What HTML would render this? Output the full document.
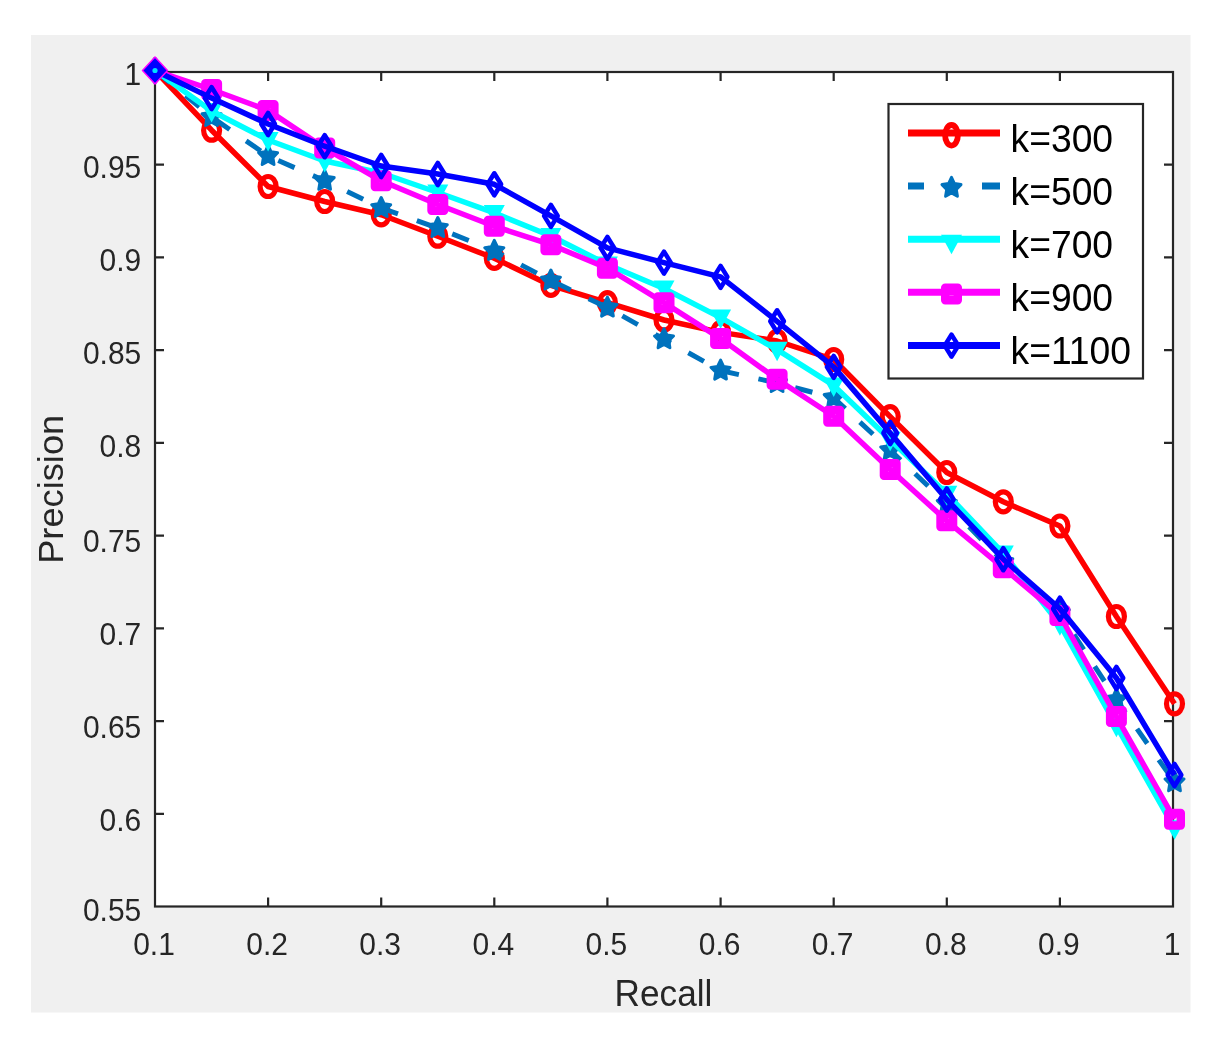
<!DOCTYPE html>
<html lang="en"><head><meta charset="utf-8"><title>Precision-Recall</title>
<style>html,body{margin:0;padding:0;background:#fff;}body{width:1221px;height:1054px;overflow:hidden;}svg{display:block;filter:blur(0.6px);}</style>
</head><body>
<svg width="1221" height="1054" viewBox="0 0 1221 1054" font-family="Liberation Sans, sans-serif">
<rect x="0" y="0" width="1221" height="1054" fill="#ffffff"/>
<rect x="31" y="35" width="1159.5" height="977.5" fill="#f0f0f0"/>
<rect x="155.0" y="72.0" width="1018.0" height="834.5" fill="#ffffff"/>
<g stroke="#262626" stroke-width="2.2" fill="none">
<rect x="155.0" y="72.0" width="1018.0" height="834.5"/>
<path d="M268.1 906.5v-9M268.1 72.0v9"/>
<path d="M381.2 906.5v-9M381.2 72.0v9"/>
<path d="M494.3 906.5v-9M494.3 72.0v9"/>
<path d="M607.4 906.5v-9M607.4 72.0v9"/>
<path d="M720.6 906.5v-9M720.6 72.0v9"/>
<path d="M833.7 906.5v-9M833.7 72.0v9"/>
<path d="M946.8 906.5v-9M946.8 72.0v9"/>
<path d="M1059.9 906.5v-9M1059.9 72.0v9"/>
<path d="M155.0 164.7h9M1173.0 164.7h-9"/>
<path d="M155.0 257.4h9M1173.0 257.4h-9"/>
<path d="M155.0 350.2h9M1173.0 350.2h-9"/>
<path d="M155.0 442.9h9M1173.0 442.9h-9"/>
<path d="M155.0 535.6h9M1173.0 535.6h-9"/>
<path d="M155.0 628.3h9M1173.0 628.3h-9"/>
<path d="M155.0 721.1h9M1173.0 721.1h-9"/>
<path d="M155.0 813.8h9M1173.0 813.8h-9"/>
</g>
<text transform="translate(154.0,955.2) scale(1,1.045)" text-anchor="middle" font-size="30" fill="#262626">0.1</text>
<text transform="translate(267.1,955.2) scale(1,1.045)" text-anchor="middle" font-size="30" fill="#262626">0.2</text>
<text transform="translate(380.2,955.2) scale(1,1.045)" text-anchor="middle" font-size="30" fill="#262626">0.3</text>
<text transform="translate(493.3,955.2) scale(1,1.045)" text-anchor="middle" font-size="30" fill="#262626">0.4</text>
<text transform="translate(606.4,955.2) scale(1,1.045)" text-anchor="middle" font-size="30" fill="#262626">0.5</text>
<text transform="translate(719.6,955.2) scale(1,1.045)" text-anchor="middle" font-size="30" fill="#262626">0.6</text>
<text transform="translate(832.7,955.2) scale(1,1.045)" text-anchor="middle" font-size="30" fill="#262626">0.7</text>
<text transform="translate(945.8,955.2) scale(1,1.045)" text-anchor="middle" font-size="30" fill="#262626">0.8</text>
<text transform="translate(1058.9,955.2) scale(1,1.045)" text-anchor="middle" font-size="30" fill="#262626">0.9</text>
<text transform="translate(1172.0,955.2) scale(1,1.045)" text-anchor="middle" font-size="30" fill="#262626">1</text>
<text transform="translate(141.3,84.9) scale(1,1.045)" text-anchor="end" font-size="30" fill="#262626">1</text>
<text transform="translate(141.3,178.3) scale(1,1.045)" text-anchor="end" font-size="30" fill="#262626">0.95</text>
<text transform="translate(141.3,271.0) scale(1,1.045)" text-anchor="end" font-size="30" fill="#262626">0.9</text>
<text transform="translate(141.3,363.8) scale(1,1.045)" text-anchor="end" font-size="30" fill="#262626">0.85</text>
<text transform="translate(141.3,456.5) scale(1,1.045)" text-anchor="end" font-size="30" fill="#262626">0.8</text>
<text transform="translate(141.3,551.6) scale(1,1.045)" text-anchor="end" font-size="30" fill="#262626">0.75</text>
<text transform="translate(141.3,645.0) scale(1,1.045)" text-anchor="end" font-size="30" fill="#262626">0.7</text>
<text transform="translate(141.3,737.8) scale(1,1.045)" text-anchor="end" font-size="30" fill="#262626">0.65</text>
<text transform="translate(141.3,830.5) scale(1,1.045)" text-anchor="end" font-size="30" fill="#262626">0.6</text>
<text transform="translate(141.3,921.2) scale(1,1.045)" text-anchor="end" font-size="30" fill="#262626">0.55</text>
<text transform="translate(663.5,1005.8) scale(1,1.045)" text-anchor="middle" font-size="35.2" fill="#262626">Recall</text>
<text transform="translate(63.3,489.3) scale(1,1.045) rotate(-90)" text-anchor="middle" font-size="34.7" fill="#262626">Precision</text>
<polyline points="155.0,70.5 211.6,130.2 268.1,186.5 324.7,201.5 381.2,214.8 437.8,236.2 494.3,258.3 550.9,285.4 607.4,302.7 664.0,320.0 720.6,332.4 777.1,341.0 833.7,359.5 890.2,416.6 946.8,472.5 1003.3,501.8 1059.9,526.0 1116.4,616.5 1174.5,703.8" fill="none" stroke="#ff0000" stroke-width="5.5" stroke-linejoin="round"/>
<ellipse cx="211.6" cy="130.2" rx="8" ry="10" fill="none" stroke="#ff0000" stroke-width="5.2"/>
<ellipse cx="268.1" cy="186.5" rx="8" ry="10" fill="none" stroke="#ff0000" stroke-width="5.2"/>
<ellipse cx="324.7" cy="201.5" rx="8" ry="10" fill="none" stroke="#ff0000" stroke-width="5.2"/>
<ellipse cx="381.2" cy="214.8" rx="8" ry="10" fill="none" stroke="#ff0000" stroke-width="5.2"/>
<ellipse cx="437.8" cy="236.2" rx="8" ry="10" fill="none" stroke="#ff0000" stroke-width="5.2"/>
<ellipse cx="494.3" cy="258.3" rx="8" ry="10" fill="none" stroke="#ff0000" stroke-width="5.2"/>
<ellipse cx="550.9" cy="285.4" rx="8" ry="10" fill="none" stroke="#ff0000" stroke-width="5.2"/>
<ellipse cx="607.4" cy="302.7" rx="8" ry="10" fill="none" stroke="#ff0000" stroke-width="5.2"/>
<ellipse cx="664.0" cy="320.0" rx="8" ry="10" fill="none" stroke="#ff0000" stroke-width="5.2"/>
<ellipse cx="720.6" cy="332.4" rx="8" ry="10" fill="none" stroke="#ff0000" stroke-width="5.2"/>
<ellipse cx="777.1" cy="341.0" rx="8" ry="10" fill="none" stroke="#ff0000" stroke-width="5.2"/>
<ellipse cx="833.7" cy="359.5" rx="8" ry="10" fill="none" stroke="#ff0000" stroke-width="5.2"/>
<ellipse cx="890.2" cy="416.6" rx="8" ry="10" fill="none" stroke="#ff0000" stroke-width="5.2"/>
<ellipse cx="946.8" cy="472.5" rx="8" ry="10" fill="none" stroke="#ff0000" stroke-width="5.2"/>
<ellipse cx="1003.3" cy="501.8" rx="8" ry="10" fill="none" stroke="#ff0000" stroke-width="5.2"/>
<ellipse cx="1059.9" cy="526.0" rx="8" ry="10" fill="none" stroke="#ff0000" stroke-width="5.2"/>
<ellipse cx="1116.4" cy="616.5" rx="8" ry="10" fill="none" stroke="#ff0000" stroke-width="5.2"/>
<ellipse cx="1174.5" cy="703.8" rx="8" ry="10" fill="none" stroke="#ff0000" stroke-width="5.2"/>
<polyline points="155.0,70.5 211.6,117.0 268.1,156.0 324.7,180.8 381.2,208.0 437.8,228.0 494.3,250.9 550.9,280.5 607.4,307.6 664.0,339.2 720.6,370.6 777.1,383.0 833.7,397.8 890.2,450.2 946.8,503.8 1003.3,562.0 1059.9,613.0 1116.4,699.6 1174.5,782.2" fill="none" stroke="#0072bd" stroke-width="5" stroke-linejoin="round" stroke-dasharray="17.8 20" stroke-dashoffset="-1.8"/>
<polygon points="211.6,106.5 214.5,112.8 221.1,113.8 216.3,118.6 217.4,125.5 211.6,122.2 205.7,125.5 206.8,118.6 202.0,113.8 208.6,112.8" fill="#0072bd" stroke="#0072bd" stroke-width="3" stroke-linejoin="round"/>
<polygon points="268.1,145.5 271.1,151.8 277.6,152.8 272.9,157.6 274.0,164.5 268.1,161.2 262.2,164.5 263.4,157.6 258.6,152.8 265.2,151.8" fill="#0072bd" stroke="#0072bd" stroke-width="3" stroke-linejoin="round"/>
<polygon points="324.7,170.3 327.6,176.6 334.2,177.6 329.4,182.4 330.5,189.3 324.7,186.1 318.8,189.3 319.9,182.4 315.2,177.6 321.7,176.6" fill="#0072bd" stroke="#0072bd" stroke-width="3" stroke-linejoin="round"/>
<polygon points="381.2,197.5 384.2,203.8 390.7,204.8 386.0,209.6 387.1,216.5 381.2,213.2 375.3,216.5 376.5,209.6 371.7,204.8 378.3,203.8" fill="#0072bd" stroke="#0072bd" stroke-width="3" stroke-linejoin="round"/>
<polygon points="437.8,217.5 440.7,223.8 447.3,224.8 442.5,229.6 443.7,236.5 437.8,233.2 431.9,236.5 433.0,229.6 428.3,224.8 434.8,223.8" fill="#0072bd" stroke="#0072bd" stroke-width="3" stroke-linejoin="round"/>
<polygon points="494.3,240.4 497.3,246.7 503.8,247.7 499.1,252.5 500.2,259.4 494.3,256.1 488.5,259.4 489.6,252.5 484.8,247.7 491.4,246.7" fill="#0072bd" stroke="#0072bd" stroke-width="3" stroke-linejoin="round"/>
<polygon points="550.9,270.0 553.8,276.3 560.4,277.3 555.6,282.1 556.8,289.0 550.9,285.8 545.0,289.0 546.1,282.1 541.4,277.3 547.9,276.3" fill="#0072bd" stroke="#0072bd" stroke-width="3" stroke-linejoin="round"/>
<polygon points="607.4,297.1 610.4,303.4 617.0,304.4 612.2,309.2 613.3,316.1 607.4,312.9 601.6,316.1 602.7,309.2 597.9,304.4 604.5,303.4" fill="#0072bd" stroke="#0072bd" stroke-width="3" stroke-linejoin="round"/>
<polygon points="664.0,328.7 666.9,335.0 673.5,336.0 668.8,340.8 669.9,347.7 664.0,344.4 658.1,347.7 659.2,340.8 654.5,336.0 661.1,335.0" fill="#0072bd" stroke="#0072bd" stroke-width="3" stroke-linejoin="round"/>
<polygon points="720.6,360.1 723.5,366.4 730.1,367.4 725.3,372.2 726.4,379.1 720.6,375.9 714.7,379.1 715.8,372.2 711.0,367.4 717.6,366.4" fill="#0072bd" stroke="#0072bd" stroke-width="3" stroke-linejoin="round"/>
<polygon points="777.1,372.5 780.1,378.8 786.6,379.8 781.9,384.6 783.0,391.5 777.1,388.2 771.2,391.5 772.4,384.6 767.6,379.8 774.2,378.8" fill="#0072bd" stroke="#0072bd" stroke-width="3" stroke-linejoin="round"/>
<polygon points="833.7,387.3 836.6,393.6 843.2,394.6 838.4,399.4 839.5,406.3 833.7,403.1 827.8,406.3 828.9,399.4 824.2,394.6 830.7,393.6" fill="#0072bd" stroke="#0072bd" stroke-width="3" stroke-linejoin="round"/>
<polygon points="890.2,439.7 893.2,446.0 899.7,447.0 895.0,451.8 896.1,458.7 890.2,455.4 884.3,458.7 885.5,451.8 880.7,447.0 887.3,446.0" fill="#0072bd" stroke="#0072bd" stroke-width="3" stroke-linejoin="round"/>
<polygon points="946.8,493.3 949.7,499.6 956.3,500.6 951.5,505.4 952.7,512.3 946.8,509.1 940.9,512.3 942.0,505.4 937.3,500.6 943.8,499.6" fill="#0072bd" stroke="#0072bd" stroke-width="3" stroke-linejoin="round"/>
<polygon points="1003.3,551.5 1006.3,557.8 1012.8,558.8 1008.1,563.6 1009.2,570.5 1003.3,567.2 997.5,570.5 998.6,563.6 993.8,558.8 1000.4,557.8" fill="#0072bd" stroke="#0072bd" stroke-width="3" stroke-linejoin="round"/>
<polygon points="1059.9,602.5 1062.8,608.8 1069.4,609.8 1064.6,614.6 1065.8,621.5 1059.9,618.2 1054.0,621.5 1055.1,614.6 1050.4,609.8 1056.9,608.8" fill="#0072bd" stroke="#0072bd" stroke-width="3" stroke-linejoin="round"/>
<polygon points="1116.4,689.1 1119.4,695.4 1126.0,696.4 1121.2,701.2 1122.3,708.1 1116.4,704.9 1110.6,708.1 1111.7,701.2 1106.9,696.4 1113.5,695.4" fill="#0072bd" stroke="#0072bd" stroke-width="3" stroke-linejoin="round"/>
<polygon points="1174.5,771.7 1177.4,778.0 1184.0,779.0 1179.3,783.8 1180.4,790.7 1174.5,787.5 1168.6,790.7 1169.7,783.8 1165.0,779.0 1171.6,778.0" fill="#0072bd" stroke="#0072bd" stroke-width="3" stroke-linejoin="round"/>
<polyline points="155.0,70.5 211.6,111.0 268.1,140.0 324.7,161.0 381.2,173.0 437.8,192.5 494.3,212.9 550.9,236.0 607.4,264.5 664.0,288.5 720.6,317.6 777.1,349.7 833.7,385.4 890.2,439.7 946.8,493.8 1003.3,553.5 1059.9,624.3 1116.4,725.8 1174.5,828.3" fill="none" stroke="#00ffff" stroke-width="5.5" stroke-linejoin="round"/>
<polygon points="201.1,103.0 222.1,103.0 211.6,122.5" fill="#00ffff"/>
<polygon points="257.6,132.0 278.6,132.0 268.1,151.5" fill="#00ffff"/>
<polygon points="314.2,153.0 335.2,153.0 324.7,172.5" fill="#00ffff"/>
<polygon points="370.7,165.0 391.7,165.0 381.2,184.5" fill="#00ffff"/>
<polygon points="427.3,184.5 448.3,184.5 437.8,204.0" fill="#00ffff"/>
<polygon points="483.8,204.9 504.8,204.9 494.3,224.4" fill="#00ffff"/>
<polygon points="540.4,228.0 561.4,228.0 550.9,247.5" fill="#00ffff"/>
<polygon points="596.9,256.5 617.9,256.5 607.4,276.0" fill="#00ffff"/>
<polygon points="653.5,280.5 674.5,280.5 664.0,300.0" fill="#00ffff"/>
<polygon points="710.1,309.6 731.1,309.6 720.6,329.1" fill="#00ffff"/>
<polygon points="766.6,341.7 787.6,341.7 777.1,361.2" fill="#00ffff"/>
<polygon points="823.2,377.4 844.2,377.4 833.7,396.9" fill="#00ffff"/>
<polygon points="879.7,431.7 900.7,431.7 890.2,451.2" fill="#00ffff"/>
<polygon points="936.3,485.8 957.3,485.8 946.8,505.3" fill="#00ffff"/>
<polygon points="992.8,545.5 1013.8,545.5 1003.3,565.0" fill="#00ffff"/>
<polygon points="1049.4,616.3 1070.4,616.3 1059.9,635.8" fill="#00ffff"/>
<polygon points="1105.9,717.8 1126.9,717.8 1116.4,737.3" fill="#00ffff"/>
<polygon points="1164.0,820.3 1185.0,820.3 1174.5,839.8" fill="#00ffff"/>
<polyline points="155.0,70.5 211.6,89.5 268.1,110.4 324.7,148.0 381.2,180.8 437.8,204.5 494.3,226.2 550.9,244.7 607.4,268.2 664.0,302.7 720.6,338.6 777.1,379.3 833.7,416.3 890.2,469.5 946.8,520.8 1003.3,567.8 1059.9,615.5 1116.4,716.6 1174.5,819.2" fill="none" stroke="#ff00ff" stroke-width="5.5" stroke-linejoin="round"/>
<rect x="205.3" y="83.2" width="12.6" height="12.6" fill="none" stroke="#ff00ff" stroke-width="8.4" stroke-linejoin="round"/>
<rect x="261.8" y="104.1" width="12.6" height="12.6" fill="none" stroke="#ff00ff" stroke-width="8.4" stroke-linejoin="round"/>
<rect x="318.4" y="141.7" width="12.6" height="12.6" fill="none" stroke="#ff00ff" stroke-width="8.4" stroke-linejoin="round"/>
<rect x="374.9" y="174.5" width="12.6" height="12.6" fill="none" stroke="#ff00ff" stroke-width="8.4" stroke-linejoin="round"/>
<rect x="431.5" y="198.2" width="12.6" height="12.6" fill="none" stroke="#ff00ff" stroke-width="8.4" stroke-linejoin="round"/>
<rect x="488.0" y="219.9" width="12.6" height="12.6" fill="none" stroke="#ff00ff" stroke-width="8.4" stroke-linejoin="round"/>
<rect x="544.6" y="238.4" width="12.6" height="12.6" fill="none" stroke="#ff00ff" stroke-width="8.4" stroke-linejoin="round"/>
<rect x="601.1" y="261.9" width="12.6" height="12.6" fill="none" stroke="#ff00ff" stroke-width="8.4" stroke-linejoin="round"/>
<rect x="657.7" y="296.4" width="12.6" height="12.6" fill="none" stroke="#ff00ff" stroke-width="8.4" stroke-linejoin="round"/>
<rect x="714.3" y="332.3" width="12.6" height="12.6" fill="none" stroke="#ff00ff" stroke-width="8.4" stroke-linejoin="round"/>
<rect x="770.8" y="373.0" width="12.6" height="12.6" fill="none" stroke="#ff00ff" stroke-width="8.4" stroke-linejoin="round"/>
<rect x="827.4" y="410.0" width="12.6" height="12.6" fill="none" stroke="#ff00ff" stroke-width="8.4" stroke-linejoin="round"/>
<rect x="883.9" y="463.2" width="12.6" height="12.6" fill="none" stroke="#ff00ff" stroke-width="8.4" stroke-linejoin="round"/>
<rect x="940.5" y="514.5" width="12.6" height="12.6" fill="none" stroke="#ff00ff" stroke-width="8.4" stroke-linejoin="round"/>
<rect x="997.0" y="561.5" width="12.6" height="12.6" fill="none" stroke="#ff00ff" stroke-width="8.4" stroke-linejoin="round"/>
<rect x="1053.6" y="609.2" width="12.6" height="12.6" fill="none" stroke="#ff00ff" stroke-width="8.4" stroke-linejoin="round"/>
<rect x="1110.1" y="710.3" width="12.6" height="12.6" fill="none" stroke="#ff00ff" stroke-width="8.4" stroke-linejoin="round"/>
<rect x="1168.2" y="812.9" width="12.6" height="12.6" fill="none" stroke="#ff00ff" stroke-width="8.4" stroke-linejoin="round"/>
<polyline points="155.0,70.5 211.6,98.1 268.1,124.0 324.7,146.2 381.2,166.0 437.8,174.0 494.3,184.3 550.9,215.9 607.4,247.9 664.0,262.6 720.6,276.9 777.1,321.3 833.7,366.9 890.2,433.0 946.8,499.5 1003.3,559.2 1059.9,608.7 1116.4,678.0 1174.5,775.0" fill="none" stroke="#0000ff" stroke-width="5.5" stroke-linejoin="round"/>
<polygon points="155.0,59.5 161.8,70.5 155.0,81.5 148.2,70.5" fill="none" stroke="#0000ff" stroke-width="4.6" stroke-linejoin="round"/>
<polygon points="211.6,87.1 218.4,98.1 211.6,109.1 204.8,98.1" fill="none" stroke="#0000ff" stroke-width="4.6" stroke-linejoin="round"/>
<polygon points="268.1,113.0 274.9,124.0 268.1,135.0 261.3,124.0" fill="none" stroke="#0000ff" stroke-width="4.6" stroke-linejoin="round"/>
<polygon points="324.7,135.2 331.5,146.2 324.7,157.2 317.9,146.2" fill="none" stroke="#0000ff" stroke-width="4.6" stroke-linejoin="round"/>
<polygon points="381.2,155.0 388.0,166.0 381.2,177.0 374.4,166.0" fill="none" stroke="#0000ff" stroke-width="4.6" stroke-linejoin="round"/>
<polygon points="437.8,163.0 444.6,174.0 437.8,185.0 431.0,174.0" fill="none" stroke="#0000ff" stroke-width="4.6" stroke-linejoin="round"/>
<polygon points="494.3,173.3 501.1,184.3 494.3,195.3 487.5,184.3" fill="none" stroke="#0000ff" stroke-width="4.6" stroke-linejoin="round"/>
<polygon points="550.9,204.9 557.7,215.9 550.9,226.9 544.1,215.9" fill="none" stroke="#0000ff" stroke-width="4.6" stroke-linejoin="round"/>
<polygon points="607.4,236.9 614.2,247.9 607.4,258.9 600.6,247.9" fill="none" stroke="#0000ff" stroke-width="4.6" stroke-linejoin="round"/>
<polygon points="664.0,251.6 670.8,262.6 664.0,273.6 657.2,262.6" fill="none" stroke="#0000ff" stroke-width="4.6" stroke-linejoin="round"/>
<polygon points="720.6,265.9 727.4,276.9 720.6,287.9 713.8,276.9" fill="none" stroke="#0000ff" stroke-width="4.6" stroke-linejoin="round"/>
<polygon points="777.1,310.3 783.9,321.3 777.1,332.3 770.3,321.3" fill="none" stroke="#0000ff" stroke-width="4.6" stroke-linejoin="round"/>
<polygon points="833.7,355.9 840.5,366.9 833.7,377.9 826.9,366.9" fill="none" stroke="#0000ff" stroke-width="4.6" stroke-linejoin="round"/>
<polygon points="890.2,422.0 897.0,433.0 890.2,444.0 883.4,433.0" fill="none" stroke="#0000ff" stroke-width="4.6" stroke-linejoin="round"/>
<polygon points="946.8,488.5 953.6,499.5 946.8,510.5 940.0,499.5" fill="none" stroke="#0000ff" stroke-width="4.6" stroke-linejoin="round"/>
<polygon points="1003.3,548.2 1010.1,559.2 1003.3,570.2 996.5,559.2" fill="none" stroke="#0000ff" stroke-width="4.6" stroke-linejoin="round"/>
<polygon points="1059.9,597.7 1066.7,608.7 1059.9,619.7 1053.1,608.7" fill="none" stroke="#0000ff" stroke-width="4.6" stroke-linejoin="round"/>
<polygon points="1116.4,667.0 1123.2,678.0 1116.4,689.0 1109.6,678.0" fill="none" stroke="#0000ff" stroke-width="4.6" stroke-linejoin="round"/>
<polygon points="1174.5,764.0 1181.3,775.0 1174.5,786.0 1167.7,775.0" fill="none" stroke="#0000ff" stroke-width="4.6" stroke-linejoin="round"/>
<polygon points="155.0,57.0 167.5,70.5 155.0,84.0 142.5,70.5" fill="#0000ff" stroke="#ff00ff" stroke-width="1.5" stroke-linejoin="round"/>
<circle cx="155.0" cy="70.5" r="2.6" fill="#00e0ff"/>
<rect x="888.5" y="104" width="254.5" height="274.5" fill="#ffffff" stroke="#262626" stroke-width="2.2"/>
<path d="M908 133.0h92" stroke="#ff0000" stroke-width="7" fill="none"/>
<ellipse cx="951.5" cy="135.3" rx="6.4" ry="10.3" fill="none" stroke="#ff0000" stroke-width="5.8"/>
<text transform="translate(1010.5,151.6) scale(1,1.045)" text-anchor="start" font-size="37.3" fill="#000000">k=300</text>
<path d="M908 186.1h16M982 186.1h18" stroke="#0072bd" stroke-width="7" fill="none"/>
<polygon points="951.5,177.3 954.4,183.6 961.0,184.6 956.3,189.4 957.4,196.3 951.5,193.0 945.6,196.3 946.7,189.4 942.0,184.6 948.6,183.6" fill="#0072bd" stroke="#0072bd" stroke-width="3" stroke-linejoin="round"/>
<text transform="translate(1010.5,204.7) scale(1,1.045)" text-anchor="start" font-size="37.3" fill="#000000">k=500</text>
<path d="M908 239.2h92" stroke="#00ffff" stroke-width="7" fill="none"/>
<polygon points="941.0,234.7 962.0,234.7 951.5,254.2" fill="#00ffff"/>
<text transform="translate(1010.5,257.8) scale(1,1.045)" text-anchor="start" font-size="37.3" fill="#000000">k=700</text>
<path d="M908 292.3h92" stroke="#ff00ff" stroke-width="7" fill="none"/>
<rect x="945.2" y="287.6" width="12.6" height="12.6" fill="none" stroke="#ff00ff" stroke-width="8.4" stroke-linejoin="round"/>
<text transform="translate(1010.5,310.9) scale(1,1.045)" text-anchor="start" font-size="37.3" fill="#000000">k=900</text>
<path d="M908 345.4h92" stroke="#0000ff" stroke-width="7" fill="none"/>
<polygon points="951.5,334.6 958.3,345.6 951.5,356.6 944.7,345.6" fill="none" stroke="#0000ff" stroke-width="4.6" stroke-linejoin="round"/>
<text transform="translate(1010.5,364.0) scale(1,1.045)" text-anchor="start" font-size="37.3" fill="#000000">k=1100</text>
</svg>
</body></html>
